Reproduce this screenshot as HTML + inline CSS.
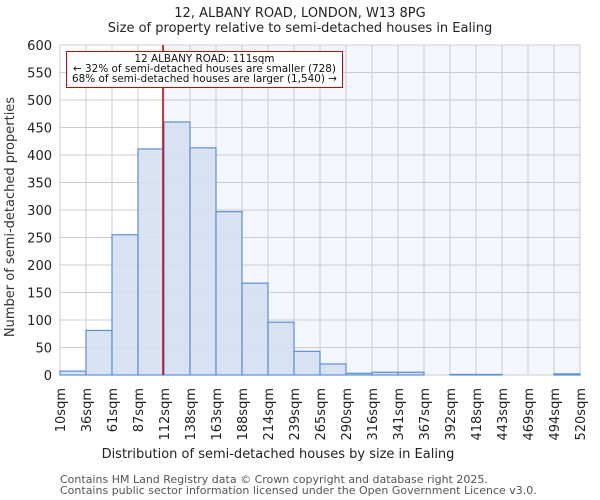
<!DOCTYPE html>
<html><head><meta charset="utf-8"><style>
body{margin:0;background:#fff;}
svg{display:block;font-family:"DejaVu Sans","Liberation Sans",sans-serif;}
</style></head><body>
<svg id="chart" width="600" height="500" xmlns="http://www.w3.org/2000/svg">
<text x="300" y="17" text-anchor="middle" font-size="13" fill="#222">12, ALBANY ROAD, LONDON, W13 8PG</text>
<text x="300" y="32" text-anchor="middle" font-size="13" fill="#222">Size of property relative to semi-detached houses in Ealing</text>
<g id="plot"></g>
<text x="278" y="458" text-anchor="middle" font-size="13" fill="#222">Distribution of semi-detached houses by size in Ealing</text>
<text transform="translate(14,217) rotate(-90)" text-anchor="middle" font-size="13" fill="#333">Number of semi-detached properties</text>
<text x="60" y="483" font-size="11" fill="#555">Contains HM Land Registry data © Crown copyright and database right 2025.</text>
<text x="60" y="494" font-size="11" fill="#555">Contains public sector information licensed under the Open Government Licence v3.0.</text>
</svg>
<script>
const binLabels=["10sqm","36sqm","61sqm","87sqm","112sqm","138sqm","163sqm","188sqm","214sqm","239sqm","265sqm","290sqm","316sqm","341sqm","367sqm","392sqm","418sqm","443sqm","469sqm","494sqm","520sqm"];
const counts=[7,81,255,411,460,413,297,167,96,43,20,3,5,5,0,1,1,0,0,2];
const yTicks=[0,50,100,150,200,250,300,350,400,450,500,550,600];
const subjectSize=111;
const annotationLines=["12 ALBANY ROAD: 111sqm","← 32% of semi-detached houses are smaller (728)","68% of semi-detached houses are larger (1,540) →"];
const annotationWidths=[140,263,265];

const NS="http://www.w3.org/2000/svg";
const L=60,R=580,T=45,B=375,xMin=10,xMax=520,yMax=600;
const n=counts.length;
const xb=i=>L+(R-L)*i/n;
const xv=v=>L+(R-L)*(v-xMin)/(xMax-xMin);
const y=v=>B-(B-T)*v/yMax;
const g=document.getElementById('plot');
function mk(tag,attrs){const e=document.createElementNS(NS,tag);for(const k in attrs)e.setAttribute(k,attrs[k]);g.appendChild(e);return e;}
const sx=xv(subjectSize);
let e=mk('rect',{x:L,y:T,width:sx-L,height:B-T,fill:'#ffffff'});


e=mk('rect',{x:sx,y:T,width:R-sx,height:B-T,fill:'#f3f6fd'});


yTicks.forEach(t=>{
 const l=mk('line',{x1:L,x2:R,y1:y(t),y2:y(t),stroke:'#cccccc','stroke-width':1});
 
 
 const tx=mk('text',{x:L-8,y:y(t)+5,'text-anchor':'end','font-size':13,fill:'#222'});
 tx.textContent=t;
 
 
});
binLabels.forEach((lb,i)=>{
 const x=xb(i);
 const l=mk('line',{x1:x,x2:x,y1:T,y2:B,stroke:'#cccccc','stroke-width':1});
 
 
 const tx=mk('text',{transform:`translate(${x+5},388) rotate(-90)`,'text-anchor':'end','font-size':13,fill:'#222'});
 tx.textContent=lb;
 
 
});
counts.forEach((c,i)=>{
 const r=mk('rect',{x:xb(i),y:y(c),width:xb(i+1)-xb(i),height:B-y(c),fill:'#d6e0f2','fill-opacity':0.9,stroke:'#5b8fd6','stroke-width':1.2});
 
 
});
e=mk('line',{x1:sx,x2:sx,y1:T,y2:B,stroke:'#cc0000','stroke-width':1.5});


e=mk('rect',{x:66.5,y:51.5,width:276,height:36,fill:'#fff',stroke:'#cc0000','stroke-width':1});


annotationLines.forEach((s,i)=>{
 const t=mk('text',{x:204.5,y:62+i*10,'text-anchor':'middle','font-size':11,fill:'#111',textLength:annotationWidths[i],lengthAdjust:'spacingAndGlyphs'});
 t.textContent=s;
 
 
});
</script>
</body></html>
